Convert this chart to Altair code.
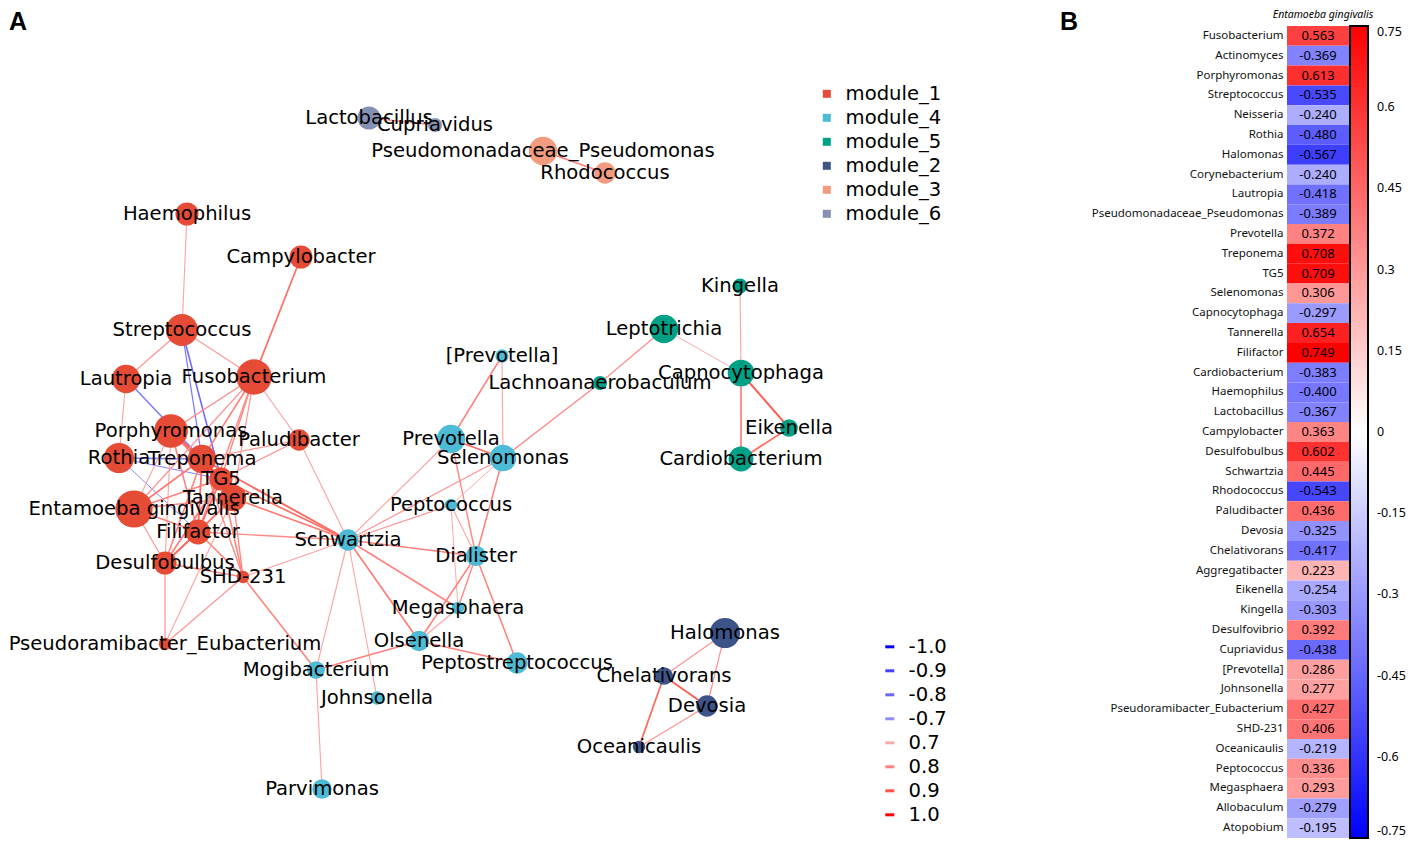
import altair as alt
import pandas as pd

# ---------------- network (panel A) ----------------
node_names = [
    "Haemophilus", "Campylobacter", "Streptococcus", "Lautropia", "Fusobacterium",
    "Porphyromonas", "Rothia", "Treponema", "TG5", "Tannerella",
    "Entamoeba gingivalis", "Filifactor", "Desulfobulbus", "SHD-231", "Paludibacter",
    "Pseudoramibacter_Eubacterium",
    "[Prevotella]", "Prevotella", "Selenomonas", "Peptococcus", "Schwartzia",
    "Dialister", "Megasphaera", "Olsenella", "Peptostreptococcus", "Mogibacterium",
    "Johnsonella", "Parvimonas",
    "Kingella", "Leptotrichia", "Lachnoanaerobaculum", "Capnocytophaga", "Eikenella",
    "Cardiobacterium",
    "Halomonas", "Chelativorans", "Devosia", "Oceanicaulis",
    "Pseudomonadaceae_Pseudomonas", "Rhodococcus",
    "Lactobacillus", "Cupriavidus",
]
node_module = (["module_1"] * 16 + ["module_4"] * 12 + ["module_5"] * 6
               + ["module_2"] * 4 + ["module_3"] * 2 + ["module_6"] * 2)
# layout coordinates of the graph drawing
node_x = [185, 299, 180, 124, 252, 169, 117, 200, 219, 231, 132, 196, 163, 241, 297, 163,
          500, 449, 501, 449, 346, 474, 456, 417, 515, 314, 375, 320,
          738, 662, 598, 739, 787, 739,
          723, 662, 705, 637,
          541, 603,
          367, 433]
node_y = [213, 256, 329, 378, 376, 430, 457, 458, 478, 497, 508, 531, 562, 576, 439, 643,
          355, 438, 457, 504, 539, 555, 607, 640, 662, 669, 697, 788,
          285, 328, 382, 372, 427, 458,
          632, 675, 705, 746,
          150, 172,
          117, 124]
node_abund = [169, 169, 324, 256, 400, 361, 289, 256, 169, 225, 441, 196, 169, 49, 144, 49,
              56, 256, 225, 49, 144, 132, 49, 132, 144, 100, 56, 121,
              72, 256, 64, 225, 100, 196,
              289, 100, 144, 49,
              256, 144,
              169, 64]

edge_source = [
    "Haemophilus", "Campylobacter", "Streptococcus", "Streptococcus", "Streptococcus",
    "Streptococcus", "Lautropia", "Lautropia", "Lautropia", "Rothia", "Rothia", "Rothia",
    "Porphyromonas", "Porphyromonas", "Porphyromonas", "Porphyromonas", "Porphyromonas",
    "Porphyromonas", "Porphyromonas",
    "Fusobacterium", "Fusobacterium", "Fusobacterium", "Fusobacterium", "Fusobacterium",
    "Fusobacterium",
    "Treponema", "Treponema", "Treponema", "Treponema", "Treponema", "Treponema",
    "Treponema", "Treponema",
    "TG5", "TG5", "TG5", "TG5", "TG5", "TG5", "TG5",
    "Tannerella", "Tannerella", "Tannerella", "Tannerella", "Tannerella",
    "Filifactor", "Filifactor", "Filifactor", "Filifactor",
    "Desulfobulbus", "Desulfobulbus", "Desulfobulbus",
    "SHD-231", "SHD-231", "SHD-231", "Paludibacter", "Pseudoramibacter_Eubacterium",
    "[Prevotella]", "[Prevotella]", "Prevotella", "Prevotella", "Prevotella",
    "Selenomonas", "Selenomonas", "Selenomonas", "Selenomonas",
    "Peptococcus", "Peptococcus", "Peptococcus",
    "Schwartzia", "Schwartzia", "Schwartzia", "Schwartzia", "Schwartzia",
    "Dialister", "Dialister", "Dialister", "Megasphaera", "Olsenella", "Olsenella",
    "Mogibacterium",
    "Kingella", "Leptotrichia", "Leptotrichia", "Capnocytophaga", "Capnocytophaga",
    "Eikenella",
    "Halomonas", "Halomonas", "Chelativorans", "Chelativorans", "Devosia",
    "Pseudomonadaceae_Pseudomonas", "Lactobacillus",
]
edge_target = [
    "Streptococcus", "Fusobacterium", "Lautropia", "Fusobacterium", "Treponema",
    "TG5", "Rothia", "Treponema", "TG5", "Treponema", "TG5", "Filifactor",
    "Fusobacterium", "Treponema", "TG5", "Tannerella", "Filifactor",
    "Desulfobulbus", "Entamoeba gingivalis",
    "Treponema", "TG5", "Tannerella", "Filifactor", "Paludibacter",
    "Entamoeba gingivalis",
    "TG5", "Tannerella", "Filifactor", "Desulfobulbus", "SHD-231", "Entamoeba gingivalis",
    "Schwartzia", "Paludibacter",
    "Tannerella", "Filifactor", "Desulfobulbus", "SHD-231", "Schwartzia", "Paludibacter",
    "Entamoeba gingivalis",
    "Filifactor", "Desulfobulbus", "SHD-231", "Schwartzia", "Entamoeba gingivalis",
    "Desulfobulbus", "SHD-231", "Schwartzia", "Entamoeba gingivalis",
    "SHD-231", "Pseudoramibacter_Eubacterium", "Entamoeba gingivalis",
    "Pseudoramibacter_Eubacterium", "Mogibacterium", "Schwartzia", "Schwartzia", "Tannerella",
    "Prevotella", "Selenomonas", "Selenomonas", "Schwartzia", "Dialister",
    "Schwartzia", "Peptococcus", "Dialister", "Lachnoanaerobaculum",
    "Schwartzia", "Dialister", "Megasphaera",
    "Dialister", "Megasphaera", "Olsenella", "Mogibacterium", "Johnsonella",
    "Megasphaera", "Olsenella", "Peptostreptococcus", "Olsenella", "Mogibacterium",
    "Peptostreptococcus",
    "Parvimonas",
    "Capnocytophaga", "Capnocytophaga", "Lachnoanaerobaculum", "Eikenella", "Cardiobacterium",
    "Cardiobacterium",
    "Chelativorans", "Devosia", "Devosia", "Oceanicaulis", "Oceanicaulis",
    "Rhodococcus", "Cupriavidus",
]
edge_weight = [
    0.72, 0.84, 0.75, 0.74, -0.75,
    -0.80, 0.72, -0.72, -0.72, -0.75, -0.72, -0.70,
    0.78, 0.90, 0.85, 0.82, 0.80,
    0.72, 0.72,
    0.80, 0.78, 0.75, 0.78, 0.72,
    0.75,
    0.92, 0.88, 0.85, 0.80, 0.78, 0.82,
    0.86, 0.75,
    0.90, 0.85, 0.82, 0.80, 0.84, 0.75,
    0.80,
    0.85, 0.80, 0.78, 0.82, 0.78,
    0.85, 0.80, 0.78, 0.80,
    0.78, 0.75, 0.75,
    0.75, 0.80, 0.72, 0.72, 0.72,
    0.80, 0.72, 0.85, 0.72, 0.78,
    0.75, 0.70, 0.80, 0.78,
    0.75, 0.72, 0.70,
    0.80, 0.80, 0.82, 0.72, 0.72,
    0.78, 0.80, 0.80, 0.72, 0.80,
    0.80,
    0.72,
    0.72, 0.70, 0.76, 0.88, 0.82,
    0.84,
    0.75, 0.75, 0.88, 0.85, 0.75,
    0.80, 0.75,
]

module_order = ["module_1", "module_4", "module_5", "module_2", "module_3", "module_6"]
module_colors = ["#E64B35", "#4DBBD5", "#00A087", "#3C5488", "#F39B7F", "#8491B4"]
weight_ticks = [-1.0, -0.9, -0.8, -0.7, 0.7, 0.8, 0.9, 1.0]

# ---------------- heatmap (panel B) ----------------
heat_title = "Entamoeba gingivalis"
heat_genus = [
    "Fusobacterium", "Actinomyces", "Porphyromonas", "Streptococcus", "Neisseria",
    "Rothia", "Halomonas", "Corynebacterium", "Lautropia", "Pseudomonadaceae_Pseudomonas",
    "Prevotella", "Treponema", "TG5", "Selenomonas", "Capnocytophaga", "Tannerella",
    "Filifactor", "Cardiobacterium", "Haemophilus", "Lactobacillus", "Campylobacter",
    "Desulfobulbus", "Schwartzia", "Rhodococcus", "Paludibacter", "Devosia",
    "Chelativorans", "Aggregatibacter", "Eikenella", "Kingella", "Desulfovibrio",
    "Cupriavidus", "[Prevotella]", "Johnsonella", "Pseudoramibacter_Eubacterium",
    "SHD-231", "Oceanicaulis", "Peptococcus", "Megasphaera", "Allobaculum", "Atopobium",
]
heat_r = [
    0.563, -0.369, 0.613, -0.535, -0.240,
    -0.480, -0.567, -0.240, -0.418, -0.389,
    0.372, 0.708, 0.709, 0.306, -0.297, 0.654,
    0.749, -0.383, -0.400, -0.367, 0.363,
    0.602, 0.445, -0.543, 0.436, -0.325,
    -0.417, 0.223, -0.254, -0.303, 0.392,
    -0.438, 0.286, 0.277, 0.427,
    0.406, -0.219, 0.336, 0.293, -0.279, -0.195,
]
colorbar_ticks = [0.75, 0.6, 0.45, 0.3, 0.15, 0, -0.15, -0.3, -0.45, -0.6, -0.75]

# ---------------- build tables ----------------
nodes = pd.DataFrame({"name": node_names, "module": node_module,
                      "x": node_x, "y": node_y, "abund": node_abund})
pos = {n: (x, y) for n, x, y in zip(node_names, node_x, node_y)}
edges = pd.DataFrame({
    "source": edge_source, "target": edge_target, "w": edge_weight,
    "x": [pos[s][0] for s in edge_source], "y": [pos[s][1] for s in edge_source],
    "x2": [pos[t][0] for t in edge_target], "y2": [pos[t][1] for t in edge_target],
})
edges["aw"] = edges["w"].abs()

heat = pd.DataFrame({"genus": heat_genus, "r": heat_r,
                     "label": [f"{v:.3f}" for v in heat_r]})

NET_W, NET_H = 1073, 812
xs = alt.Scale(domain=[8, 8 + NET_W], nice=False, zero=False)
ys = alt.Scale(domain=[25, 25 + NET_H], nice=False, zero=False, reverse=True)
FONT = "DejaVu Sans"
FS = 19.6

edge_layer = alt.Chart(edges).mark_rule().encode(
    x=alt.X("x:Q", scale=xs, axis=None),
    y=alt.Y("y:Q", scale=ys, axis=None),
    x2="x2:Q", y2="y2:Q",
    stroke=alt.Stroke("w:Q",
                      scale=alt.Scale(domain=[-1, -0.7, 0.7, 1],
                                      range=["#0000ff", "#8c8cff", "#ffaaaa", "#ff0000"]),
                      legend=alt.Legend(type="symbol", values=weight_ticks, title=None,
                                        orient="none", legendX=870, legendY=611,
                                        symbolType="stroke", symbolSize=81,
                                        symbolStrokeWidth=3, labelFont=FONT,
                                        labelFontSize=FS, labelColor="black",
                                        labelOffset=9, rowPadding=3, padding=0,
                                        format=".1f",
                                        labelExpr="datum.value < 0 ? replace(datum.label, '\u2212', '-') : '\u00a0' + datum.label")),
    strokeWidth=alt.StrokeWidth("aw:Q", scale=alt.Scale(domain=[0.7, 1.0], range=[1.0, 2.6]),
                                legend=None),
)

node_layer = alt.Chart(nodes).mark_circle(opacity=1).encode(
    x=alt.X("x:Q", scale=xs, axis=None),
    y=alt.Y("y:Q", scale=ys, axis=None),
    fill=alt.Fill("module:N", scale=alt.Scale(domain=module_order, range=module_colors),
                  legend=alt.Legend(title=None, orient="none", legendX=807, legendY=58,
                                    symbolType="square", symbolSize=64, symbolStrokeWidth=0,
                                    labelFont=FONT, labelFontSize=FS, labelColor="black",
                                    labelOffset=9, rowPadding=3, padding=0)),
    size=alt.Size("abund:Q", scale=alt.Scale(domain=[0, 441], range=[0, 1385.4]), legend=None),
)

label_layer = alt.Chart(nodes).mark_text(font=FONT, fontSize=FS, color="black",
                                         align="center", baseline="middle").encode(
    x=alt.X("x:Q", scale=xs, axis=None),
    y=alt.Y("y:Q", scale=ys, axis=None),
    text="name:N",
)

letter_a = alt.Chart(pd.DataFrame({"t": ["A"]})).mark_text(
    font="Liberation Sans", fontSize=25, fontWeight="bold", color="black",
    align="left", baseline="top").encode(x=alt.value(-1), y=alt.value(-16), text="t:N")
letter_b = alt.Chart(pd.DataFrame({"t": ["B"]})).mark_text(
    font="Liberation Sans", fontSize=25, fontWeight="bold", color="black",
    align="left", baseline="top").encode(x=alt.value(1050), y=alt.value(-16), text="t:N")

network = alt.layer(edge_layer, node_layer, label_layer, letter_a, letter_b).properties(
    width=NET_W, height=NET_H)

hbase = alt.Chart(heat).encode(
    y=alt.Y("genus:N", sort=heat_genus,
            scale=alt.Scale(paddingInner=0, paddingOuter=0),
            axis=alt.Axis(title=None, domain=False, ticks=False, labelFont="Noto Sans",
                          labelFontSize=11.5, labelColor="#111", labelPadding=4,
                          labelLimit=400)),
)
hrect = hbase.mark_rect().encode(
    color=alt.Color("r:Q",
                    scale=alt.Scale(domain=[-0.75, 0, 0.75],
                                    range=["#0000ff", "#ffffff", "#ff0000"],
                                    interpolate="rgb"),
                    legend=alt.Legend(title=None, orient="none", legendX=1340, legendY=0,
                                      direction="vertical", padding=0,
                                      gradientLength=812, gradientThickness=18,
                                      gradientStrokeColor="black", gradientStrokeWidth=2,
                                      values=colorbar_ticks, format=".2~f",
                                      labelExpr="replace(datum.label, '\u2212', '-')",
                                      labelFont="Noto Sans", labelFontSize=12.5,
                                      labelColor="black", labelOffset=9)),
)
htext = hbase.mark_text(font="Noto Sans", fontSize=13, color="black").encode(text="label:N")
htitle = alt.Chart(pd.DataFrame({"t": [heat_title]})).mark_text(
    font="Noto Sans", fontSize=10.5, fontStyle="italic", color="black",
    align="center", baseline="middle").encode(x=alt.value(36), y=alt.value(-11), text="t:N")

heatmap = alt.layer(hrect, htext, htitle).properties(width=62, height=812)

chart = alt.hconcat(network, heatmap, spacing=8).properties(
    padding={"left": 0, "top": 2, "right": 0, "bottom": 0}
).configure_view(stroke=None)

chart.save("out.html", embed_options={"renderer": "svg", "actions": False})
